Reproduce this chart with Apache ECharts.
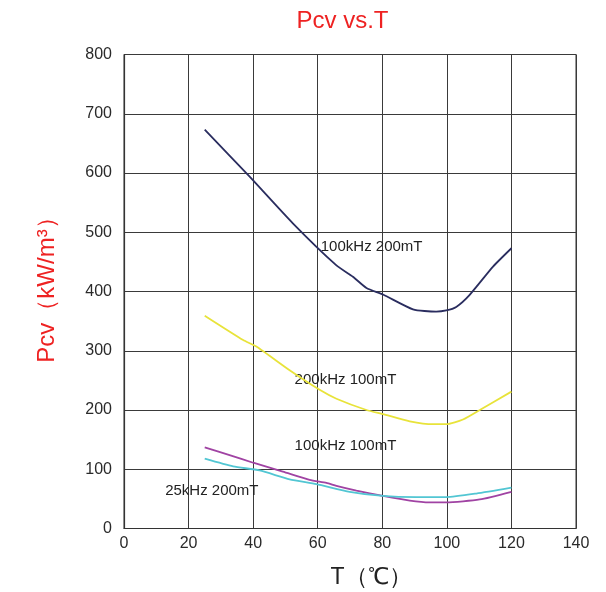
<!DOCTYPE html>
<html>
<head>
<meta charset="utf-8">
<script src="https://cdn.jsdelivr.net/npm/echarts@6/dist/echarts.min.js"></script>
<style>html,body{margin:0;padding:0;background:#fff;}#c{width:606px;height:592px;}</style>
</head>
<body>
<div id="c"></div>
<script>
var xTicks = [0, 20, 40, 60, 80, 100, 120, 140];
var yTicks = [0, 100, 200, 300, 400, 500, 600, 700, 800];

var t100k200 = [25, 38.7, 52.3, 65.8, 70.9, 75.1, 80.2, 89.5, 96.7, 99.8, 102.9, 107, 114.3, 120];
var p100k200 = [673, 595, 515, 444, 425, 406, 395, 370, 366, 368, 374, 394, 442, 473];

var t200k100 = [25, 36.9, 41, 51.3, 60.6, 65.8, 75.1, 80.2, 88.5, 95.7, 99.8, 105, 110.2, 120];
var p200k100 = [359, 318, 307, 267, 234, 219, 200, 193, 181, 176, 176, 184, 200, 231];

var tPurple = [25, 32.7, 40, 49.2, 57.5, 62.7, 65.8, 72, 80.2, 88.5, 94.7, 99.8, 110.2, 120];
var pPurple = [137, 124, 111, 96, 82, 77, 72, 64, 55, 47, 44, 44, 49, 62];

var tCyan = [25, 33.8, 42, 51.3, 59.6, 69.9, 80.2, 90.5, 99.8, 109.1, 120];
var pCyan = [118, 105, 98, 83, 75, 62, 55, 53, 53, 59, 69];

var labelTexts = ["100kHz 200mT", "200kHz 100mT", "100kHz 100mT", "25kHz 200mT"];
var labelT = [76.7, 68.6, 68.6, 27.2];
var labelP = [475, 251, 139, 63];

function zip(a, b) { return a.map(function (v, i) { return [v, b[i]]; }); }

var FONT = '"Liberation Sans", Arial, sans-serif';
var chart = echarts.init(document.getElementById('c'), null, {renderer: 'canvas'});

function mkLine(name, t, p, color) {
  return {
    name: name, type: 'line', data: zip(t, p), showSymbol: false, symbol: 'none',
    smooth: 0.2, lineStyle: {color: color, width: 1.8}, itemStyle: {color: color},
    silent: true, animation: false
  };
}

chart.setOption({
  animation: false,
  backgroundColor: '#ffffff',
  grid: {left: 124, right: 30, top: 54.5, bottom: 63.5, show: true, borderColor: '#333', borderWidth: 1},
  xAxis: {
    type: 'value', min: xTicks[0], max: xTicks[xTicks.length - 1], interval: 20,
    axisLine: {show: true, lineStyle: {color: '#333', width: 1.2}},
    axisTick: {show: false},
    axisLabel: {color: '#2a2a2a', fontSize: 16, fontFamily: FONT, margin: 7},
    splitLine: {show: true, lineStyle: {color: '#3a3a3a', width: 1}}
  },
  yAxis: {
    type: 'value', min: yTicks[0], max: yTicks[yTicks.length - 1], interval: 100,
    axisLine: {show: true, lineStyle: {color: '#333', width: 1.2}},
    axisTick: {show: false},
    axisLabel: {color: '#2a2a2a', fontSize: 16, fontFamily: FONT, margin: 12},
    splitLine: {show: true, lineStyle: {color: '#3a3a3a', width: 1}}
  },
  series: [
    mkLine('100kHz 200mT', t100k200, p100k200, '#2a2d5f'),
    mkLine('200kHz 100mT', t200k100, p200k100, '#e8e33a'),
    mkLine('purple', tPurple, pPurple, '#a043a3'),
    mkLine('cyan', tCyan, pCyan, '#52c6d3')
  ]
});

var g = [
  {type: 'text', style: {text: 'Pcv vs.T', x: 342.5, y: 21, textAlign: 'center', textVerticalAlign: 'middle', fill: '#ee2222', font: '24px ' + FONT}},
  {type: 'text', style: {text: 'T（℃）', x: 371, y: 578, textAlign: 'center', textVerticalAlign: 'middle', fill: '#222', font: '23px ' + FONT}},
  {type: 'text', rotation: Math.PI / 2, x: 47.5, y: 284, style: {text: 'Pcv（kW/m³）', x: 0, y: 0, textAlign: 'center', textVerticalAlign: 'middle', fill: '#ee2222', font: '24px ' + FONT}}
];
labelTexts.forEach(function (s, i) {
  var pt = chart.convertToPixel({gridIndex: 0}, [labelT[i], labelP[i]]);
  g.push({type: 'text', style: {text: s, x: pt[0], y: pt[1], textAlign: 'center', textVerticalAlign: 'middle', fill: '#222', font: '15px ' + FONT}});
});
chart.setOption({graphic: g});
</script>
</body>
</html>
